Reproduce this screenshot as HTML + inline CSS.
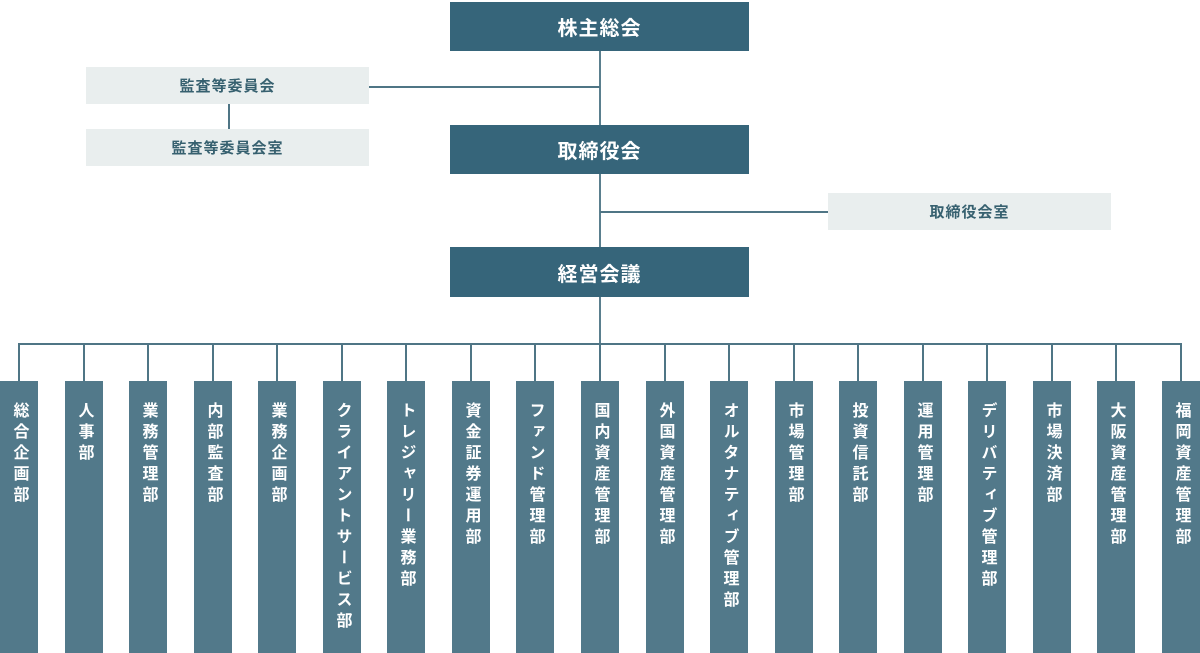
<!DOCTYPE html>
<html><head><meta charset="utf-8"><style>
body{margin:0;width:1200px;height:653px;background:#fff;position:relative;overflow:hidden;font-family:"Liberation Sans","Noto Sans CJK JP",sans-serif;font-weight:bold}
.d{position:absolute;background:#36657a;color:#fff;font-size:20px;display:flex;align-items:center;justify-content:center;letter-spacing:1px}
.l{position:absolute;background:#e9eeee;color:#36606f;font-size:15px;display:flex;align-items:center;justify-content:center;letter-spacing:1px}
.ln{position:absolute;background:#4f7585}
.c{position:absolute;top:381px;width:38px;height:272px;background:#52798a;color:#fff;font-size:16px;line-height:21px;text-align:center;padding-top:21px;box-sizing:border-box;writing-mode:vertical-rl;display:flex;align-items:flex-start}
.c span{display:block;width:38px;text-align:left;letter-spacing:5px}
</style></head><body>
<div class="ln" style="left:599px;top:50px;width:2px;height:332px;background:#5a7f8e"></div>
<div class="ln" style="left:369px;top:86px;width:231px;height:2px"></div>
<div class="ln" style="left:228px;top:104px;width:2px;height:25px"></div>
<div class="ln" style="left:600px;top:211px;width:228px;height:2px"></div>
<div class="ln" style="left:18px;top:343px;width:1164px;height:2px"></div>
<div class="d" style="left:450px;top:2px;width:299px;height:49px">株主総会</div>
<div class="d" style="left:450px;top:125px;width:299px;height:49px">取締役会</div>
<div class="d" style="left:450px;top:247px;width:299px;height:50px">経営会議</div>
<div class="l" style="left:86px;top:67px;width:283px;height:37px">監査等委員会</div>
<div class="l" style="left:86px;top:129px;width:283px;height:37px">監査等委員会室</div>
<div class="l" style="left:828px;top:193px;width:283px;height:37px">取締役会室</div>
<div id="cols"></div>
<script>
var n=["総合企画部","人事部","業務管理部","内部監査部","業務企画部","クライアントサービス部","トレジャリー業務部","資金証券運用部","ファンド管理部","国内資産管理部","外国資産管理部","オルタナティブ管理部","市場管理部","投資信託部","運用管理部","デリバティブ管理部","市場決済部","大阪資産管理部","福岡資産管理部"];
var h="";for(var i=0;i<19;i++){var x=Math.round(i*64.55);
h+='<div class="ln" style="left:'+(x+18)+'px;top:343px;width:2px;height:38px"></div>';
h+='<div class="c" style="left:'+x+'px;writing-mode:horizontal-tb;display:block"><div style="writing-mode:vertical-rl;margin:0 auto;letter-spacing:5px;">'+n[i]+'</div></div>';}
document.getElementById("cols").innerHTML=h;
</script>
</body></html>
